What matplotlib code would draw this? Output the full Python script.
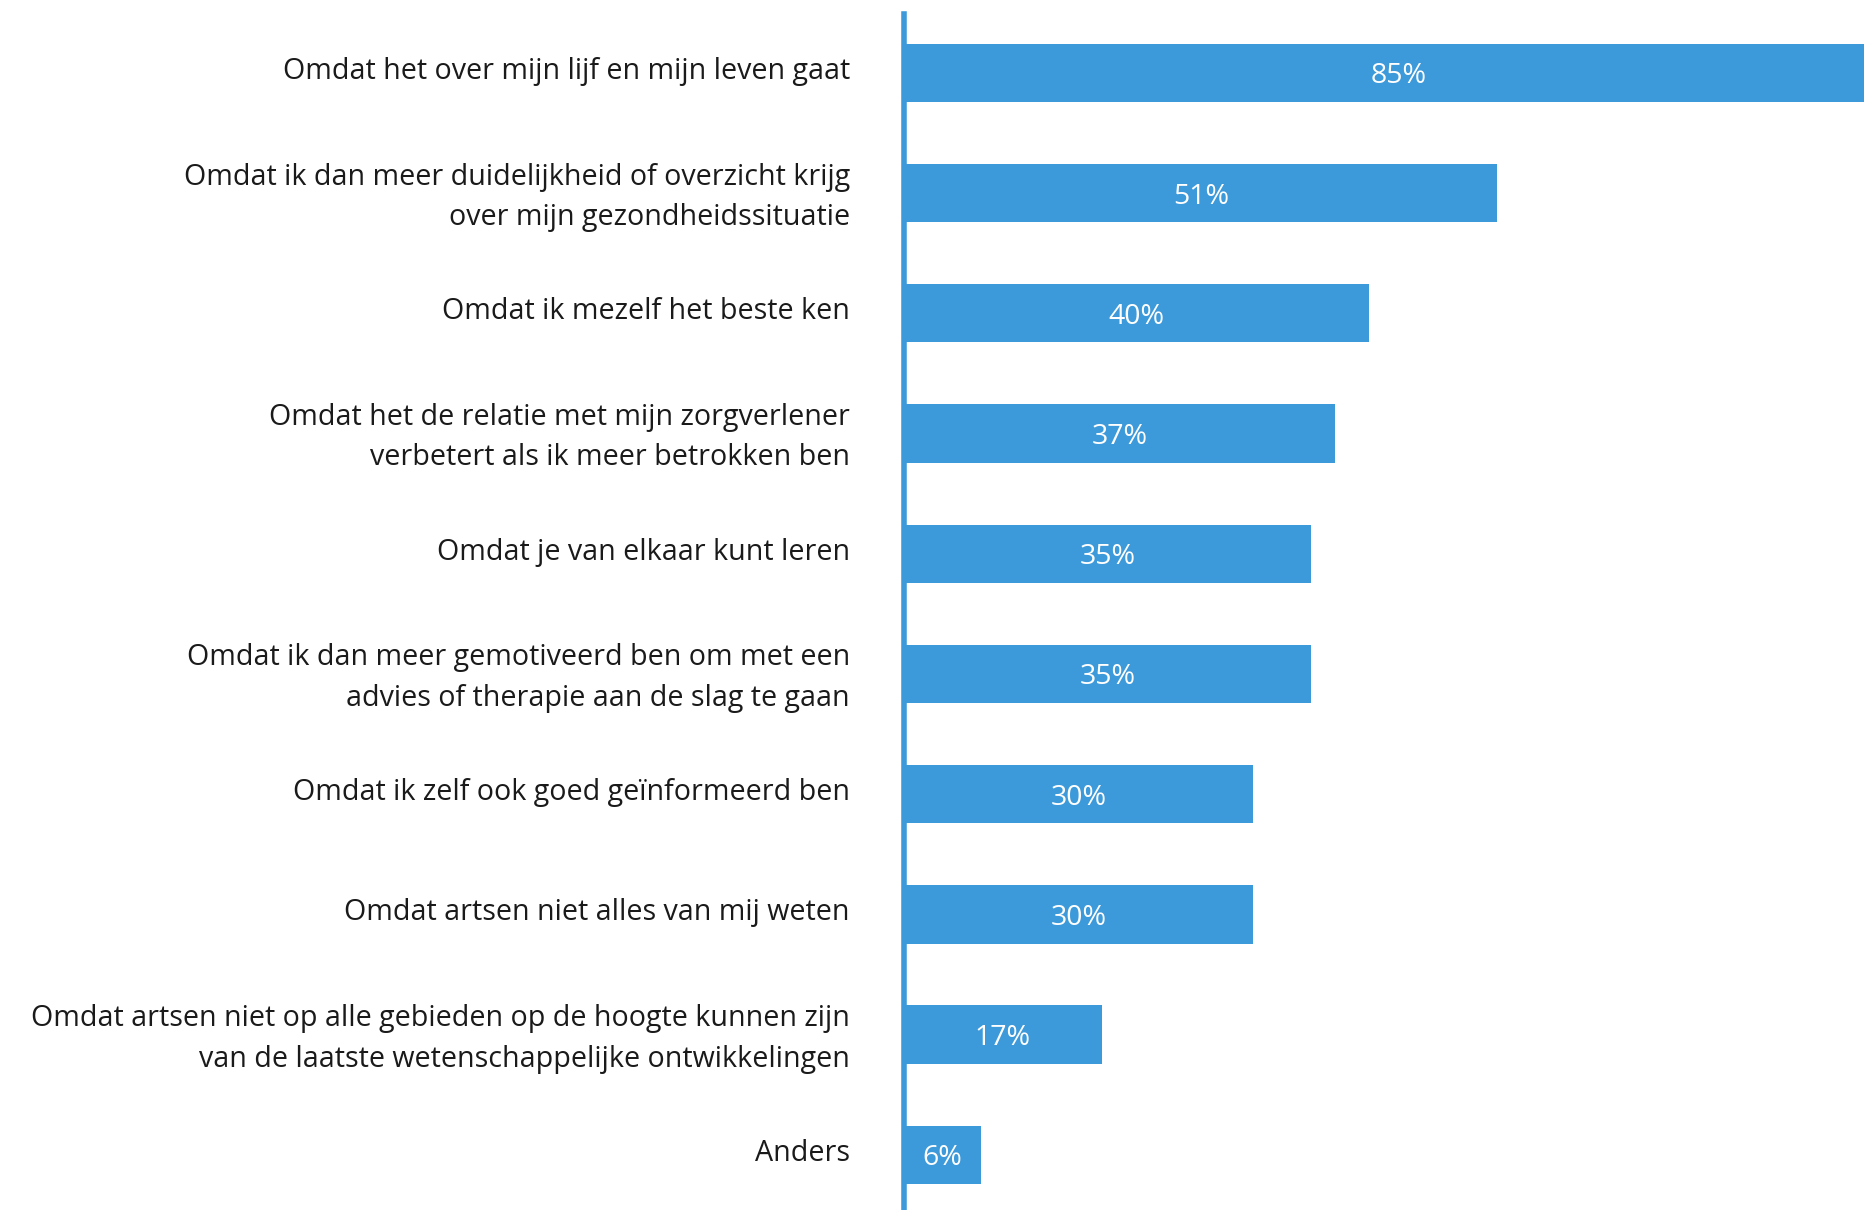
import matplotlib
matplotlib.use("Agg")
import matplotlib.pyplot as plt
from matplotlib.transforms import ScaledTranslation

categories = [
    "Omdat het over mijn lijf en mijn leven gaat",
    "Omdat ik dan meer duidelijkheid of overzicht krijg\nover mijn gezondheidssituatie",
    "Omdat ik mezelf het beste ken",
    "Omdat het de relatie met mijn zorgverlener\nverbetert als ik meer betrokken ben",
    "Omdat je van elkaar kunt leren",
    "Omdat ik dan meer gemotiveerd ben om met een\nadvies of therapie aan de slag te gaan",
    "Omdat ik zelf ook goed geïnformeerd ben",
    "Omdat artsen niet alles van mij weten",
    "Omdat artsen niet op alle gebieden op de hoogte kunnen zijn\nvan de laatste wetenschappelijke ontwikkelingen",
    "Anders",
]
values = [85, 51, 40, 37, 35, 35, 30, 30, 17, 6.6]
value_labels = ["85%", "51%", "40%", "37%", "35%", "35%", "30%", "30%", "17%", "6%"]

plt.rcParams['font.family'] = ['Open Sans', 'DejaVu Sans']
blue = '#3D9ADA'

W, H = 1864, 1210
fig = plt.figure(figsize=(W / 100, H / 100), dpi=100)
ax_left = 904 / W
ax = fig.add_axes([ax_left, 0, 1 - ax_left, (H - 14) / H])

y = list(range(len(categories)))
ax.barh(y, values, height=0.485, color=blue, left=0)
ax.set_xlim(0, 82.5)
ax.set_ylim(9.459, -0.49)

for yi, v, lab in zip(y, values, value_labels):
    ax.text(v / 2, yi, lab, ha='center', va='center_baseline', color='white', fontsize=20.5)

ax.set_yticks(y)
ax.set_yticklabels(categories, fontsize=20.6, color='#1a1a1a', linespacing=1.52)
ax.tick_params(axis='y', length=0, pad=39)
ax.tick_params(axis='x', bottom=False, labelbottom=False)
shift = ScaledTranslation(0, 0.05, fig.dpi_scale_trans)
for t in ax.get_yticklabels():
    t.set_transform(t.get_transform() + shift)
for s in ['top', 'right', 'bottom']:
    ax.spines[s].set_visible(False)
ax.spines['left'].set_color(blue)
ax.spines['left'].set_linewidth(4)

fig.savefig('out.png', dpi=100)
